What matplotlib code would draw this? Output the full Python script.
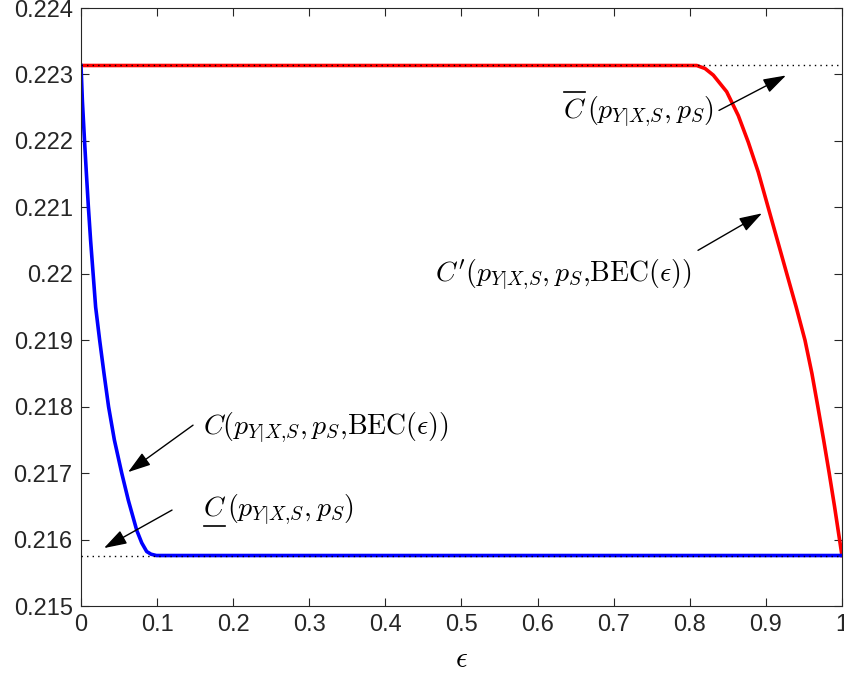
import numpy as np
import matplotlib
matplotlib.use("Agg")
import matplotlib.pyplot as plt
from matplotlib.lines import Line2D

plt.rcParams['font.family'] = ['Liberation Sans', 'DejaVu Sans']
plt.rcParams['mathtext.fontset'] = 'cm'

# ---- data ----
upper_cap = 0.223135   # \overline{C}
lower_cap = 0.21576    # \underline{C}

blue_eps = [0.0, 0.0018, 0.0046, 0.0071, 0.0097, 0.0126, 0.0159, 0.0192, 0.0245, 0.0302,
            0.0362, 0.0438, 0.0535, 0.0622, 0.0732, 0.0798, 0.0863, 0.0920, 0.0990, 1.0]
blue_cap = [0.223135, 0.2226, 0.2220, 0.2215, 0.2210, 0.2205, 0.2200, 0.2195, 0.2190, 0.2185,
            0.2180, 0.2175, 0.2170, 0.21659, 0.21614, 0.21595, 0.21582, 0.21578, 0.21576, 0.21576]

red_eps = [0.0, 0.8091, 0.8200, 0.8309, 0.8485, 0.8638, 0.8769, 0.8900, 0.9025, 0.9150,
           0.9275, 0.9398, 0.9514, 0.9605, 0.9683, 0.9759, 0.9832, 0.9902, 0.9968, 1.0]
red_cap = [0.223135, 0.223135, 0.223090, 0.222990, 0.222740, 0.222380, 0.221980, 0.221530,
           0.221020, 0.220510, 0.220000, 0.219500, 0.219000, 0.218500, 0.218000, 0.217500,
           0.217000, 0.216500, 0.216000, 0.21576]

xticks = np.arange(0, 1.01, 0.1)
xticklabels = ['0', '0.1', '0.2', '0.3', '0.4', '0.5', '0.6', '0.7', '0.8', '0.9', '1']
yticks = [0.215, 0.216, 0.217, 0.218, 0.219, 0.22, 0.221, 0.222, 0.223, 0.224]
yticklabels = ['0.215', '0.216', '0.217', '0.218', '0.219', '0.22', '0.221', '0.222', '0.223', '0.224']

# ---- figure ----
fig = plt.figure(figsize=(8.44, 6.86), dpi=100)
ax = fig.add_axes([0.096, 0.1166, 0.9016, 0.8717])

ax.plot(red_eps, red_cap, color='red', lw=2.6, solid_joinstyle='round', zorder=2)
ax.plot(blue_eps, blue_cap, color='blue', lw=2.6, solid_joinstyle='round', zorder=2)
ax.axhline(upper_cap, color='black', ls=(0, (1, 3)), lw=1.0, zorder=3)
ax.axhline(lower_cap, color='black', ls=(0, (1, 3)), lw=1.0, zorder=3)

ax.set_xlim(0, 1)
ax.set_ylim(0.215, 0.224)
ax.set_xticks(xticks)
ax.set_xticklabels(xticklabels)
ax.set_yticks(yticks)
ax.set_yticklabels(yticklabels)
ax.tick_params(direction='in', length=6, width=0.8, color='#262626',
               labelsize=17, labelcolor='#262626', top=True, right=True, pad=6)
for s in ax.spines.values():
    s.set_color('#262626')
    s.set_linewidth(0.8)

ax.set_xlabel(r'$\epsilon$', fontsize=21, labelpad=6)

arrow = dict(arrowstyle='-|>,head_length=1.4,head_width=0.45', color='black',
             lw=1.0, shrinkA=0, shrinkB=0)
tsize = 20

# arrows: head, tail
ax.annotate('', xy=(0.9264, 0.222985), xytext=(0.8384, 0.222459), arrowprops=arrow)
ax.annotate('', xy=(0.8949, 0.220910), xytext=(0.8108, 0.220353), arrowprops=arrow)
ax.annotate('', xy=(0.0618, 0.217015), xytext=(0.1472, 0.217722), arrowprops=arrow)
ax.annotate('', xy=(0.0302, 0.215872), xytext=(0.1196, 0.216444), arrowprops=arrow)

ax.text(0.4652, 0.219902, r"$C'(p_{Y|X{,}S}, p_S{,}\mathrm{BEC}(\epsilon))$", fontsize=tsize,
        ha='left', va='baseline')
ax.text(0.1603, 0.217602, r'$C(p_{Y|X{,}S}, p_S{,}\mathrm{BEC}(\epsilon))$', fontsize=tsize,
        ha='left', va='baseline')


def barred_label(x, y, rest, over):
    # mathtext has no \underline, so the C, its bar and the rest are drawn apart
    c_txt = ax.text(x, y, r'$C$', fontsize=tsize, ha='left', va='baseline')
    fig.canvas.draw()
    bb = c_txt.get_window_extent()
    W, H = fig.bbox.width, fig.bbox.height
    ybar = bb.y1 + 5 if over else bb.y0 - 5
    fig.add_artist(Line2D([(bb.x0 + 1) / W, (bb.x1 - 1) / W], [ybar / H] * 2,
                          color='black', lw=1.2))
    xd = ax.transData.inverted().transform((bb.x1 + 1, 0))[0]
    ax.text(xd, y, rest, fontsize=tsize, ha='left', va='baseline')


barred_label(0.6334, 0.222353, r'$(p_{Y|X{,}S}, p_S)$', over=True)
barred_label(0.1603, 0.216368, r'$(p_{Y|X{,}S}, p_S)$', over=False)

fig.savefig('out.png', dpi=100)
